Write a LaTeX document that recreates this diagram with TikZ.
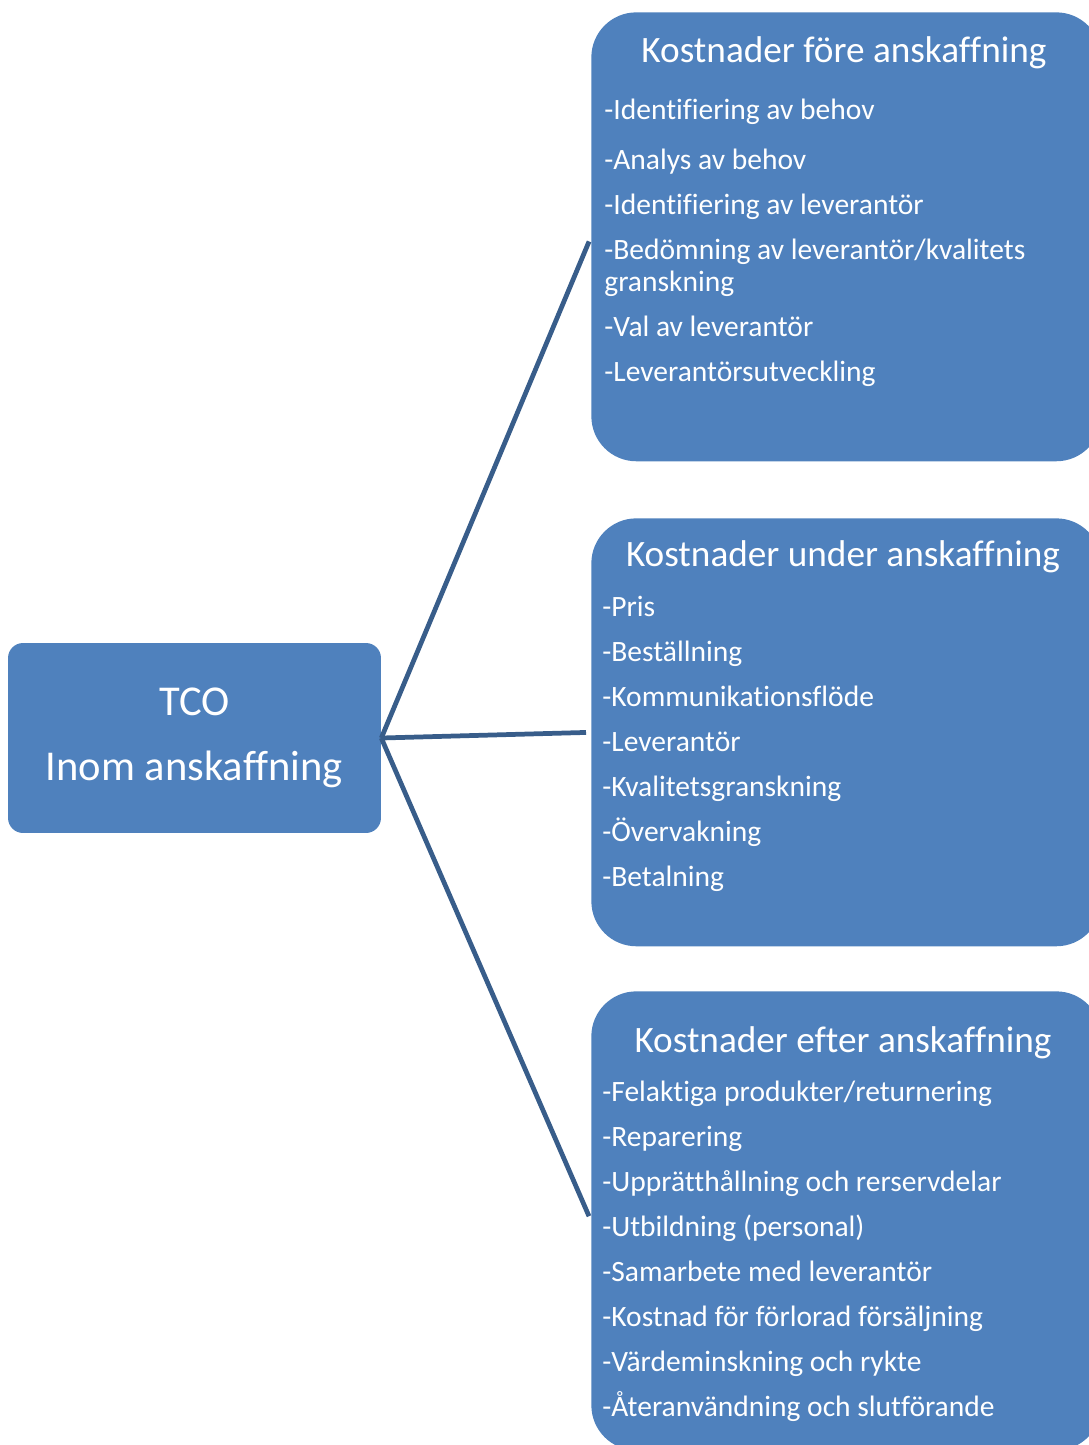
\documentclass[tikz,border=0pt]{standalone}
\usepackage{fontspec}
\setmainfont[Ligatures=CommonOff]{Carlito}
\usetikzlibrary{positioning}
\definecolor{boxblue}{HTML}{4F81BD}
\definecolor{linkblue}{HTML}{385D8A}
\tikzset{
	costbox/.style={rectangle,rounded corners=0.9cm,fill=boxblue,anchor=north west,
	minimum width=10.2cm,inner sep=0pt},
	boxtitle/.style={text=white,font=\fontsize{21.2}{25}\selectfont},
	itemlist/.style={text=white,font=\fontsize{16.8}{18.2}\selectfont,align=left,
	anchor=north west,inner sep=0pt},
	link/.style={draw=linkblue,line width=2.7pt,shorten >=0.1cm}
}
\begin{document}
\begin{tikzpicture}[x=0.02cm,y=-0.02cm]
	\clip (0,0) rectangle (1089,1445);
	\node(tco) [rectangle,rounded corners=0.3cm,fill=boxblue,minimum width=7.46cm,minimum height=3.8cm,
	text=white,align=center,font=\fontsize{24.2}{37}\selectfont] at (194.5,738) {TCO\\Inom anskaffning};
	% right hand boxes
	\node(pre) [costbox,minimum height=8.98cm] at (591,12) {};
	\node(during) [costbox,minimum height=8.56cm] at (591,518) {};
	\node(post) [costbox,minimum height=9.18cm] at (591,991) {};
	\node(pretitle) [boxtitle] at (844,53) {Kostnader före anskaffning};
	\node(duringtitle) [boxtitle] at (843,557) {Kostnader under anskaffning};
	\node(posttitle) [boxtitle] at (843,1043) {Kostnader efter anskaffning};
	\node(preitems) [itemlist] at (604,99) {-Identifiering av behov\\[10pt]
	-Analys av behov\\[7.4pt]
	-Identifiering av leverantör\\[7.4pt]
	-Bedömning av leverantör/kvalitets\\granskning\\[7.4pt]
	-Val av leverantör\\[7.4pt]
	-Leverantörsutveckling};
	\node(duringitems) [itemlist] at (602,596) {-Pris\\[7.4pt]
	-Beställning\\[7.4pt]
	-Kommunikationsflöde\\[7.4pt]
	-Leverantör\\[7.4pt]
	-Kvalitetsgranskning\\[7.4pt]
	-Övervakning\\[7.4pt]
	-Betalning};
	\node(postitems) [itemlist] at (602,1081) {-Felaktiga produkter/returnering\\[7.4pt]
	-Reparering\\[7.4pt]
	-Upprätthållning och rerservdelar\\[7.4pt]
	-Utbildning (personal)\\[7.4pt]
	-Samarbete med leverantör\\[7.4pt]
	-Kostnad för förlorad försäljning\\[7.4pt]
	-Värdeminskning och rykte\\[7.4pt]
	-Återanvändning och slutförande};
	\draw [link] (tco.east) -- (pre.west);
	\draw [link] (tco.east) -- (during.west);
	\draw [link] (tco.east) -- (post.west);
\end{tikzpicture}
\end{document}
